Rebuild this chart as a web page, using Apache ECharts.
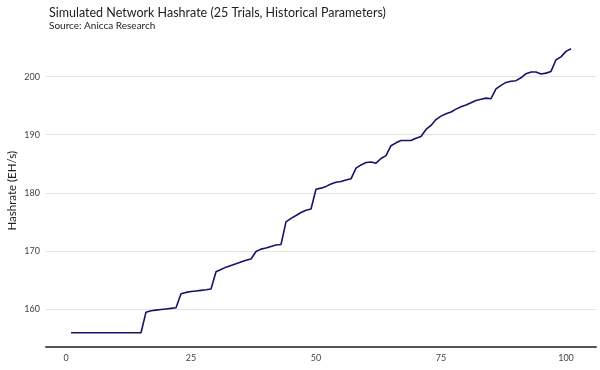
<!DOCTYPE html>
<html>
<head>
<meta charset="utf-8">
<script src="https://cdn.jsdelivr.net/npm/echarts@6/dist/echarts.min.js"></script>
<style>html,body{margin:0;padding:0;background:#fff}#c{width:600px;height:370px}</style>
</head>
<body>
<div id="c"></div>
<script>
const trials = Array.from({length: 101}, (_, k) => k + 1);
const hashrate = [
  155.9,155.9,155.9,155.9,155.9,155.9,155.9,155.9,155.9,155.9,
  155.9,155.9,155.9,155.9,155.9,159.45,159.7,159.8,159.9,160.0,
  160.1,160.2,162.6,162.85,163.0,163.1,163.2,163.3,163.45,166.4,
  166.8,167.2,167.5,167.8,168.1,168.4,168.6,169.9,170.3,170.5,
  170.75,171.0,171.1,175.0,175.6,176.1,176.6,177.0,177.2,180.6,
  180.8,181.1,181.5,181.8,181.95,182.2,182.4,184.25,184.8,185.2,
  185.3,185.1,185.9,186.4,188.1,188.6,189.0,189.0,189.0,189.4,
  189.7,190.9,191.6,192.6,193.2,193.6,193.9,194.4,194.8,195.1,
  195.5,195.9,196.1,196.3,196.2,197.9,198.5,199.0,199.2,199.3,
  199.8,200.5,200.8,200.8,200.45,200.6,200.9,202.9,203.4,204.35,
  204.8
];
const xTicks = [0, 25, 50, 75, 100];
const yTicks = [160, 170, 180, 190, 200];

const chart = echarts.init(document.getElementById('c'), null, {renderer: 'canvas'});
chart.setOption({
  animation: false,
  backgroundColor: '#ffffff',
  textStyle: {fontFamily: 'Lato'},
  title: {
    text: 'Simulated Network Hashrate (25 Trials, Historical Parameters)',
    subtext: 'Source: Anicca Research',
    left: 44, top: 1, itemGap: 2,
    textStyle: {fontFamily: 'Lato', fontSize: 12.5, fontWeight: 'normal', color: '#222'},
    subtextStyle: {fontFamily: 'Lato', fontSize: 10, color: '#222'}
  },
  grid: {left: 46, right: 4, top: 34.5, bottom: 23, containLabel: false, outerBoundsMode: 'none'},
  xAxis: {
    type: 'value', min: -4, max: 106,
    axisLine: {show: true, lineStyle: {color: '#555', width: 2}},
    axisTick: {show: false, customValues: xTicks},
    axisLabel: {customValues: xTicks, color: '#444', fontSize: 9, margin: 7, fontFamily: 'Lato'},
    splitLine: {show: false}
  },
  yAxis: {
    type: 'value', min: 153.45, max: 207.25,
    name: 'Hashrate (EH/s)', nameLocation: 'middle', nameGap: 28, nameRotate: 90,
    nameMoveOverlap: false,
    nameTextStyle: {fontFamily: 'Lato', fontSize: 11.5, color: '#222'},
    axisLine: {show: false},
    axisTick: {show: false, customValues: yTicks},
    axisLabel: {customValues: yTicks, color: '#444', fontSize: 9, margin: 6, fontFamily: 'Lato'},
    splitLine: {show: true, lineStyle: {color: '#e3e3e3', width: 1}}
  },
  series: [{
    type: 'line',
    data: trials.map((t, k) => [t, hashrate[k]]),
    showSymbol: false,
    lineStyle: {color: '#14146b', width: 1.6},
    z: 3
  }]
});
</script>
</body>
</html>
